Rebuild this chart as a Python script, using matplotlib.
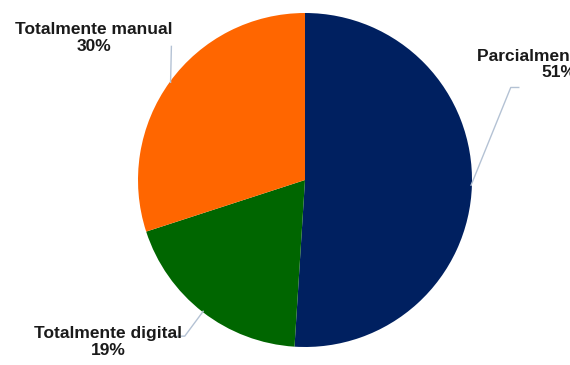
import numpy as np
import matplotlib.pyplot as plt

labels = ['Parcialmente digital', 'Totalmente digital', 'Totalmente manual']
values = [51, 19, 30]
colors = ['#002060', '#006600', '#FF6600']

# label centre and leader elbow, in axes data units (pie radius = 1)
label_pos = [(1.52, 0.69), (-1.18, -0.97), (-1.262, 0.85)]
elbows = [[(1.232, 0.554), (1.28, 0.554)],
          [(-0.72, -0.935), (-0.79, -0.935)],
          [(-0.80, 0.80)]]

plt.rcParams['font.family'] = ['Liberation Sans', 'DejaVu Sans']

fig = plt.figure(figsize=(5.7, 3.65), dpi=100)
W, H = 570, 365
cx, cy, r = 305, 180, 167
ax = fig.add_axes([(cx - r) / W, (H - cy - r) / H, 2 * r / W, 2 * r / H])

wedges, _ = ax.pie(values, colors=colors, startangle=90, counterclock=False,
                   radius=1.0)
ax.set_xlim(-1, 1)
ax.set_ylim(-1, 1)
ax.set_aspect('equal')
ax.axis('off')

for w, lab, v, pos, elb in zip(wedges, labels, values, label_pos, elbows):
    mid = np.deg2rad((w.theta1 + w.theta2) / 2)
    start = (np.cos(mid) * 0.995, np.sin(mid) * 0.995)
    pts = [start] + elb
    xs, ys = zip(*pts)
    ax.plot(xs, ys, color='#B4C2D4', lw=1.0, clip_on=False)
    ax.text(pos[0], pos[1], f'{lab}\n{v}%', ha='center', va='center',
            fontsize=12.5, fontweight='bold', color='#1a1a1a',
            linespacing=1.1, clip_on=False)

fig.savefig('out.png', dpi=100)
